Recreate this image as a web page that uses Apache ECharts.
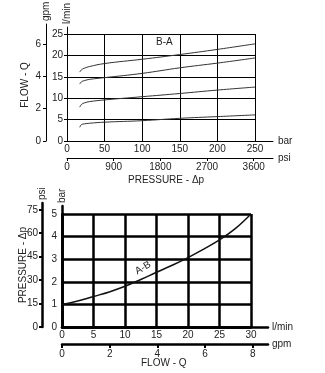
<!DOCTYPE html>
<html><head><meta charset="utf-8">
<script src="https://cdn.jsdelivr.net/npm/echarts@6/dist/echarts.min.js"></script>
<style>html,body{margin:0;padding:0;background:#fff}#c{width:325px;height:373px}</style>
</head><body><div id="c"></div>
<script>
// ---- Top chart data: flow (l/min) vs pressure (bar), B-A ----
var pressureBar = [17, 19, 23, 30, 50, 100, 150, 200, 250];
var flowBA1 = [16.1, 16.6, 17.0, 17.4, 18.1, 19.1, 20.2, 21.4, 22.7];
var flowBA2 = [13.3, 13.8, 14.1, 14.4, 14.8, 15.8, 17.1, 18.2, 19.4];
var flowBA3 = [7.9, 8.5, 8.9, 9.2, 9.6, 10.35, 11.1, 11.9, 12.6];
var flowBA4 = [3.2, 3.8, 4.0, 4.15, 4.4, 4.75, 5.3, 5.7, 6.1];
var barTicks = [0, 50, 100, 150, 200, 250];
var psiTicksTop = [0, 900, 1800, 2700, 3600];
var lminTicksTop = [0, 5, 10, 15, 20, 25];
var gpmTicksTop = [0, 2, 4, 6];

// ---- Bottom chart data: pressure (bar) vs flow (l/min), A-B ----
var flowLmin = [0, 2.5, 5, 7.5, 10, 12.5, 15, 17.5, 20, 22.5, 25, 27.5, 30];
var pressAB = [1.0, 1.15, 1.35, 1.55, 1.8, 2.1, 2.42, 2.73, 3.07, 3.45, 3.85, 4.35, 5.0];
var psiTicksBot = [0, 15, 30, 45, 60, 75];
var gpmTicksBot = [0, 2, 4, 6, 8];

var FONT = '"Liberation Sans Narrow", "Liberation Sans", Arial, sans-serif';
var TXT = '#222';
function plain(v){ return String(v); }
function lbl(extra){ return Object.assign({color: TXT, fontSize: 10, fontFamily: FONT, formatter: plain}, extra||{}); }
function nm(extra){ return Object.assign({color: TXT, fontSize: 10, fontFamily: FONT}, extra||{}); }
function line(w){ return {show:true, lineStyle:{color:'#000', width:w}}; }

var chart = echarts.init(document.getElementById('c'), null, {renderer:'canvas'});
var option = {
  animation:false,
  backgroundColor:'#fff',
  grid:[
    {left:67, top:34, width:188, height:107},  // 0 top plot
    {left:67, top:24, width:206, height:117},  // 1 top extension axes
    {left:46, top:24, width:1, height:117},    // 2 gpm axis
    {left:67, top:157, width:206, height:1},   // 3 psi axis
    {left:62, top:214, width:189, height:113}, // 4 bottom plot
    {left:62, top:206, width:206, height:121}, // 5 bottom extension
    {left:42, top:203, width:1, height:124},   // 6 psi axis
    {left:62, top:343, width:206, height:1}    // 7 gpm axis
  ],
  xAxis:[
    {gridIndex:0, type:'value', min:0, max:250, interval:50,
      axisLine:line(1), axisTick:{show:false},
      axisLabel:lbl({margin:3}), splitLine:{show:true, lineStyle:{color:'#000', width:1}}},
    {gridIndex:1, type:'value', min:0, max:1, axisLine:line(1), axisTick:{show:false},
      axisLabel:{show:false}, splitLine:{show:false},
      name:'bar', nameLocation:'end', nameGap:5, nameTextStyle:nm()},
    {gridIndex:2, type:'value', min:0, max:1, show:false},
    {gridIndex:3, type:'value', min:0, max:3972, axisLine:line(1),
      axisTick:{show:true, length:3, customValues:psiTicksTop, lineStyle:{color:'#000'}},
      axisLabel:lbl({margin:4, customValues:psiTicksTop}), splitLine:{show:false},
      name:'psi', nameLocation:'end', nameGap:5, nameTextStyle:nm()},
    {gridIndex:4, type:'value', min:0, max:30, interval:5,
      axisLine:line(2.5), axisTick:{show:false},
      axisLabel:lbl({margin:3}), splitLine:{show:true, lineStyle:{color:'#000', width:2.5}}},
    {gridIndex:5, type:'value', min:0, max:1, axisLine:line(2.5), axisTick:{show:false},
      axisLabel:{show:false}, splitLine:{show:false},
      name:'l/min', nameLocation:'end', nameGap:4, nameTextStyle:nm()},
    {gridIndex:6, type:'value', min:0, max:1, show:false},
    {gridIndex:7, type:'value', min:0, max:8.64, axisLine:line(2.5),
      axisTick:{show:true, length:4, customValues:gpmTicksBot, lineStyle:{color:'#000', width:2}},
      axisLabel:lbl({margin:5, customValues:gpmTicksBot}), splitLine:{show:false},
      name:'gpm', nameLocation:'end', nameGap:4, nameTextStyle:nm()}
  ],
  yAxis:[
    {gridIndex:0, type:'value', min:0, max:25, interval:5,
      axisLine:{show:false}, axisTick:{show:true, length:3, lineStyle:{color:'#000'}},
      axisLabel:lbl({margin:4}), splitLine:{show:true, lineStyle:{color:'#000', width:1}}},
    {gridIndex:1, type:'value', min:0, max:1, axisLine:line(1), axisTick:{show:false},
      axisLabel:{show:false}, splitLine:{show:false},
      name:'l/min', nameLocation:'end', nameGap:3, nameRotate:90, nameTextStyle:nm({align:'left', verticalAlign:'middle'})},
    {gridIndex:2, type:'value', min:0, max:7.22, axisLine:line(1),
      axisTick:{show:true, length:3, customValues:gpmTicksTop, lineStyle:{color:'#000'}},
      axisLabel:lbl({margin:5, customValues:gpmTicksTop}), splitLine:{show:false},
      name:'gpm', nameLocation:'end', nameGap:3, nameRotate:90, nameTextStyle:nm({align:'left', verticalAlign:'middle'})},
    {gridIndex:3, type:'value', min:0, max:1, show:false},
    {gridIndex:4, type:'value', min:0, max:5, interval:1,
      axisLine:line(2.5), axisTick:{show:false},
      axisLabel:lbl({margin:5}), splitLine:{show:true, lineStyle:{color:'#000', width:2.5}}},
    {gridIndex:5, type:'value', min:0, max:1, axisLine:line(2.5), axisTick:{show:false},
      axisLabel:{show:false}, splitLine:{show:false},
      name:'bar', nameLocation:'end', nameGap:3, nameRotate:90, nameTextStyle:nm({align:'left', verticalAlign:'middle'})},
    {gridIndex:6, type:'value', min:0, max:79.35, axisLine:line(2.5),
      axisTick:{show:true, length:3, customValues:psiTicksBot, lineStyle:{color:'#000', width:2}},
      axisLabel:lbl({margin:4, customValues:psiTicksBot}), splitLine:{show:false},
      name:'psi', nameLocation:'end', nameGap:3, nameRotate:90, nameTextStyle:nm({align:'left', verticalAlign:'middle'})},
    {gridIndex:7, type:'value', min:0, max:1, show:false}
  ],
  series:[
    {type:'line', xAxisIndex:0, yAxisIndex:0, smooth:0.4, symbol:'none', lineStyle:{color:'#333', width:1},
      data: pressureBar.map(function(p,i){return [p, flowBA1[i]];})},
    {type:'line', xAxisIndex:0, yAxisIndex:0, smooth:0.4, symbol:'none', lineStyle:{color:'#333', width:1},
      data: pressureBar.map(function(p,i){return [p, flowBA2[i]];})},
    {type:'line', xAxisIndex:0, yAxisIndex:0, smooth:0.4, symbol:'none', lineStyle:{color:'#333', width:1},
      data: pressureBar.map(function(p,i){return [p, flowBA3[i]];})},
    {type:'line', xAxisIndex:0, yAxisIndex:0, smooth:0.4, symbol:'none', lineStyle:{color:'#333', width:1},
      data: pressureBar.map(function(p,i){return [p, flowBA4[i]];})},
    {type:'line', xAxisIndex:4, yAxisIndex:4, smooth:0.4, symbol:'none', lineStyle:{color:'#111', width:1.5},
      data: flowLmin.map(function(q,i){return [q, pressAB[i]];})}
  ],
  graphic:[
    {type:'text', left:156, top:37, style:{text:'B-A', fill:TXT, font:'10px '+FONT}},
    {type:'text', left:128, top:175, style:{text:'PRESSURE - \u0394p', fill:TXT, font:'10px '+FONT}},
    {type:'text', x:25, y:85, rotation:Math.PI/2, style:{text:'FLOW - Q', fill:TXT, font:'10px '+FONT, align:'center', verticalAlign:'middle'}},
    {type:'text', x:143, y:268, rotation:Math.PI/6, style:{text:'A-B', fill:TXT, font:'10px '+FONT, align:'center', verticalAlign:'middle'}},
    {type:'text', left:141, top:358, style:{text:'FLOW - Q', fill:TXT, font:'10px '+FONT}},
    {type:'text', x:23, y:265, rotation:Math.PI/2, style:{text:'PRESSURE - \u0394p', fill:TXT, font:'10px '+FONT, align:'center', verticalAlign:'middle'}}
  ]
};
chart.setOption(option);
</script></body></html>
